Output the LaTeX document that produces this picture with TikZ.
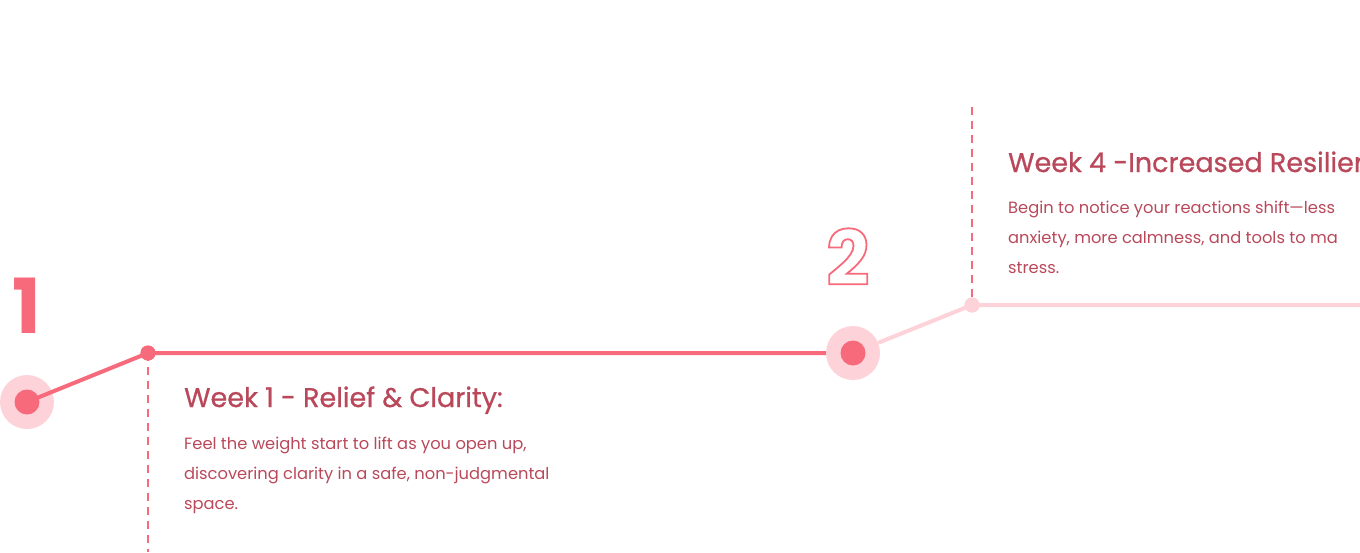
\documentclass[tikz,border=0pt]{standalone}
\usepackage{fontspec}
\setmainfont{Poppins}
\newfontfamily\headfont{Poppins}[FakeBold=0.8]
\usepackage{tikz}
\usetikzlibrary{positioning,calc}
\definecolor{tlred}{RGB}{247,106,123}
\definecolor{tlpink}{RGB}{253,211,217}
\definecolor{tltext}{RGB}{185,72,90}
\newcommand{\outlinedigit}[1]{\special{pdf:literal direct 1 Tr 1.8 w}#1\special{pdf:literal direct 0 Tr}}

\begin{document}
\begin{tikzpicture}[x=1pt,y=-1pt,
  trackline/.style={line width=4pt, tlred},
  fadeline/.style={line width=4pt, tlpink},
  guide/.style={tlred, line width=2pt, dash pattern=on 8pt off 6pt},
  halo/.style={circle, fill=tlpink, minimum size=54pt, inner sep=0pt},
  core/.style={circle, fill=tlred, minimum size=25pt, inner sep=0pt},
  joint/.style={circle, minimum size=15pt, inner sep=0pt},
  weekhead/.style={anchor=base west, inner sep=0pt, text=tltext, font=\headfont\fontsize{27}{30}\selectfont},
  weekbody/.style={anchor=base west, inner sep=0pt, align=left, text=tltext, font=\fontsize{16.3}{30}\selectfont},
  bignum/.style={anchor=base west, inner sep=0pt, text=tlred, font=\bfseries\fontsize{76}{80}\selectfont}
]
  \useasboundingbox (0,0) rectangle (1360,552);
  \clip (0,0) rectangle (1360,552);

  % stops on the track
  \node[halo] (h1) at (27,402) {};
  \node[joint, fill=tlred] (j1) at (148,353) {};
  \node[joint, fill=tlpink] (j2) at (972,305) {};
  \coordinate (g1) at (148,552);
  \coordinate (g2) at (972,107);
  \coordinate (tail) at (1360,305);

  \draw[guide] (j1.center) -- (g1);
  \draw[guide] (g2) -- (j2.center);
  \draw[trackline] (h1.center) -- (j1.center) -- (853,353);
  \node[halo] (h2) at (853,353) {};
  \draw[fadeline] (h2) -- (j2.center) -- (tail);
  \node[core] (c1) at (h1) {};
  \node[core] (c2) at (h2) {};
  \node[joint, fill=tlred] at (j1) {};
  \node[joint, fill=tlpink] at (j2) {};

  % numbers
  \node[bignum] (n1) at (12,333) {1};
  \node[bignum] (n2) at (826,285) {\outlinedigit{2}};

  % week texts (body nodes sit on their last line)
  \node[weekhead] (t1) at (184,407) {Week 1 - Relief \& Clarity:};
  \node[weekbody] (b1) at (184,509) {Feel the weight start to lift as you open up,\\discovering clarity in a safe, non-judgmental\\space.};
  \node[weekhead] (t4) at (1008,172) {Week 4 -Increased Resilien};
  \node[weekbody] (b4) at (1008,273) {Begin to notice your reactions shift—less\\anxiety, more calmness, and tools to ma\\stress.};
\end{tikzpicture}
\end{document}
